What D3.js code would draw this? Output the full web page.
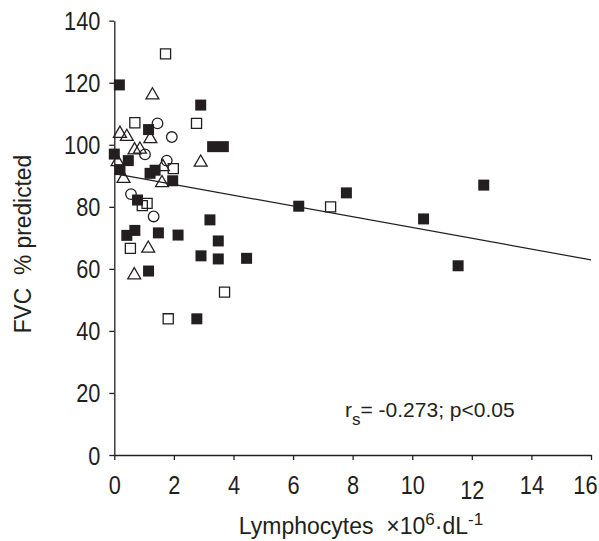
<!DOCTYPE html>
<html>
<head>
<meta charset="utf-8">
<script src="https://cdn.jsdelivr.net/npm/d3@7"></script>
<style>
  html, body { margin: 0; padding: 0; background: #fff; }
  svg { display: block; }
  text { font-family: "Liberation Sans", Arial, Helvetica, sans-serif; fill: #231f20; }
</style>
</head>
<body>
<svg id="chart" width="599" height="541"></svg>
<script>
// ---- data ----
const filledX = [0.0, 0.17, 2.90, 1.15, 3.30, 3.66, 0.47, 0.19, 1.20, 1.37, 1.96, 0.78, 3.21, 0.42, 0.69, 1.48, 2.14, 3.49, 2.91, 3.49, 4.44, 1.15, 2.77, 6.19, 7.79, 10.38, 11.54, 12.40];
const filledY = [97.0, 119.3, 112.8, 104.9, 99.4, 99.4, 94.9, 92.0, 90.8, 91.8, 88.4, 82.2, 75.8, 70.8, 72.4, 71.6, 70.9, 69.0, 64.2, 63.2, 63.4, 59.3, 43.9, 80.2, 84.5, 76.1, 61.0, 87.0];

const openSqX = [1.72, 0.69, 2.76, 1.98, 0.94, 1.10, 0.54, 3.70, 1.81, 7.26];
const openSqY = [129.3, 107.1, 106.9, 92.3, 80.4, 81.1, 66.6, 52.5, 43.9, 80.0];

const triX = [1.28, 0.19, 0.42, 1.21, 0.68, 0.86, 0.11, 2.90, 0.31, 1.60, 1.14, 0.67, 1.63];
const triY = [116.0, 103.6, 102.6, 101.9, 98.3, 98.5, 94.5, 94.3, 89.1, 87.7, 66.6, 58.0, 92.9];

const circX = [1.45, 1.93, 1.03, 1.76, 0.56, 1.32];
const circY = [106.9, 102.5, 96.9, 94.9, 84.1, 76.9];

const lineX = [0, 16];
const lineY = [90.7, 62.9];

const xTicks = [0, 2, 4, 6, 8, 10, 12, 14, 16];
const yTicks = [0, 20, 40, 60, 80, 100, 120, 140];

const yTitle = "FVC  % predicted";
const statText = { r: "r", sub: "s", rest: "= -0.273; p<0.05" };

// ---- layout ----
const ink = "#231f20";
const svg = d3.select("#chart");
const x = d3.scaleLinear().domain([0, 16]).range([114.3, 591]);
const y = d3.scaleLinear().domain([0, 140]).range([455, 20.7]);

// axes
const xAxis = d3.axisBottom(x).tickValues(xTicks).tickSize(5).tickSizeOuter(0).tickFormat(d3.format("d"));
const yAxis = d3.axisLeft(y).tickValues(yTicks).tickSize(5).tickSizeOuter(0).tickFormat(d3.format("d"));

const gx = svg.append("g").attr("transform", `translate(0,${y(0)})`).call(xAxis);
const gy = svg.append("g").attr("transform", `translate(${x(0)},0)`).call(yAxis);

[gx, gy].forEach(g => {
  g.select(".domain").attr("stroke", ink).attr("stroke-width", 1.3);
  g.selectAll(".tick line").attr("stroke", ink).attr("stroke-width", 1.3);
  g.selectAll(".tick text").attr("fill", ink).style("font-size", "25px")
    .style("font-family", '"Liberation Sans", Arial, Helvetica, sans-serif');
});
gx.selectAll(".tick text")
  .attr("y", 21).attr("dy", "0.71em")
  .attr("transform", "scale(0.87,1)");
gx.selectAll(".tick text").filter(d => d === 12).attr("y", 26);
gx.selectAll(".tick text").filter(d => d === 16).attr("x", -7);
gy.selectAll(".tick text")
  .attr("x", -16).attr("dy", "0.36em")
  .attr("transform", "scale(0.87,1)");

// regression line
svg.append("line")
  .attr("x1", x(lineX[0])).attr("y1", y(lineY[0]))
  .attr("x2", x(lineX[1])).attr("y2", y(lineY[1]))
  .attr("stroke", ink).attr("stroke-width", 1.2);

// markers
const pts = (xs, ys) => xs.map((v, i) => [v, ys[i]]);
const sq = d3.symbol().type(d3.symbolSquare);
const tri = d3.symbol().type(d3.symbolTriangle);
const circ = d3.symbol().type(d3.symbolCircle);

svg.append("g").selectAll("path").data(pts(triX, triY)).join("path")
  .attr("d", tri.size(72)())
  .attr("transform", d => `translate(${x(d[0])},${y(d[1])})`)
  .attr("fill", "none").attr("stroke", ink).attr("stroke-width", 1.3);

svg.append("g").selectAll("path").data(pts(circX, circY)).join("path")
  .attr("d", circ.size(88)())
  .attr("transform", d => `translate(${x(d[0])},${y(d[1])})`)
  .attr("fill", "none").attr("stroke", ink).attr("stroke-width", 1.3);

svg.append("g").selectAll("path").data(pts(openSqX, openSqY)).join("path")
  .attr("d", sq.size(102)())
  .attr("transform", d => `translate(${x(d[0])},${y(d[1])})`)
  .attr("fill", "none").attr("stroke", ink).attr("stroke-width", 1.3);

svg.append("g").selectAll("path").data(pts(filledX, filledY)).join("path")
  .attr("d", sq.size(121)())
  .attr("transform", d => `translate(${x(d[0])},${y(d[1])})`)
  .attr("fill", ink).attr("stroke", "none");

// y title
svg.append("text")
  .attr("transform", `translate(31,${y(68)}) rotate(-90) scale(0.95,1)`)
  .attr("text-anchor", "middle")
  .style("font-size", "24px")
  .style("white-space", "pre")
  .text(yTitle);

// x title
const xt = svg.append("text")
  .attr("x", 361).attr("y", 534)
  .attr("text-anchor", "middle")
  .style("font-size", "23px")
  .style("white-space", "pre");
xt.append("tspan").text("Lymphocytes  \u00d710");
xt.append("tspan").attr("dy", -9).style("font-size", "17px").text("6");
xt.append("tspan").attr("dy", 9).text("\u00b7dL");
xt.append("tspan").attr("dy", -9).style("font-size", "17px").text("-1");

// stat annotation
const st = svg.append("text").attr("x", 345).attr("y", 417).style("font-size", "21px");
st.append("tspan").text(statText.r);
st.append("tspan").attr("dy", 8).style("font-size", "17px").text(statText.sub);
st.append("tspan").attr("dy", -8).text(statText.rest);
</script>
</body>
</html>
